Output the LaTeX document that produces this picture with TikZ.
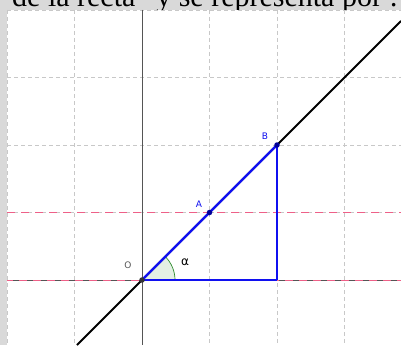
\documentclass[tikz,border=0pt]{standalone}
\usepackage{fontspec}
\setmainfont{Liberation Serif}
\newfontfamily\labelfont{DejaVu Sans}
\definecolor{bggray}{HTML}{D9D9D9}
\definecolor{gridgray}{HTML}{C8C8C8}
\definecolor{axisgray}{HTML}{555555}
\definecolor{pinkline}{HTML}{EE6088}
\definecolor{segblue}{HTML}{1010F0}
\definecolor{anglegreen}{HTML}{2E8B2E}
\definecolor{anglefill}{HTML}{E4F0E4}
\tikzset{
  gridline/.style={gridgray, line width=0.8pt, dash pattern=on 4pt off 3pt},
  axisline/.style={axisgray, line width=0.8pt},
  pinkdash/.style={pinkline, line width=1pt, dash pattern=on 8pt off 6pt},
  seg/.style={segblue, line width=2.3pt},
  mainline/.style={black, line width=1.8pt},
  pointdot/.style={circle, fill=#1, inner sep=0pt, minimum size=5.5pt},
  ptlabel/.style={font=\labelfont\fontsize{9}{10}\selectfont, text=#1},
}
\begin{document}
\begin{tikzpicture}[x=1pt, y=-1pt]
\useasboundingbox (0,0) rectangle (401,345);
\fill[bggray] (0,0) rectangle (401,345);
\fill[white] (7,10) rectangle (401,345);
% top text (clipped)
\begin{scope}
\clip (0,0) rectangle (401,10);
\node[anchor=base east, inner sep=0pt, font=\fontsize{30}{32}\selectfont] (toptext) at (398,7) {de la recta” y se representa por :};
\end{scope}
% grid
\foreach \gx in {7,74.5,209.5,277,344.5} \draw[gridline] (\gx,10) -- (\gx,345);
\foreach \gy in {10.5,77.5,145,212.5} \draw[gridline] (7,\gy) -- (401,\gy);
% axes
\draw[axisline] (142,10) -- (142,345);
\draw[axisline] (7,280) -- (401,280);
\draw[pinkdash, dash phase=2pt] (7,280) -- (401,280);
\draw[pinkdash] (7,212.5) -- (401,212.5);
% points
\coordinate (O) at (142,280);
\coordinate (A) at (209.5,212.5);
\coordinate (B) at (277,145);
\coordinate (C) at (277,280);
\coordinate (lineS) at (77,345);
\coordinate (lineE) at (401,21);
% angle
\fill[anglefill] (O) -- ++(33,0) arc[start angle=0, end angle=-45, radius=33] -- cycle;
\draw[anglegreen, line width=0.7pt] (O) ++(33,0) arc[start angle=0, end angle=-45, radius=33];
% main line
\draw[mainline] (lineS) -- (lineE);
% blue triangle
\draw[seg] (O) -- (B);
\draw[seg] (B) -- (C);
\draw[seg] (O) -- (C);
% dots
\node[pointdot=axisgray!60!black] (Odot) at (O) {};
\node[pointdot=blue!60!black] (Adot) at (A) {};
\node[pointdot=blue!60!black] (Bdot) at (B) {};
% labels
\node[ptlabel=axisgray] (Olab) at (128,265) {O};
\node[ptlabel=segblue] (Alab) at (199,204) {A};
\node[ptlabel=segblue] (Blab) at (265,136) {B};
\node[font=\labelfont\fontsize{12}{13}\selectfont] (alpha) at (185,262) {α};
\end{tikzpicture}
\end{document}
